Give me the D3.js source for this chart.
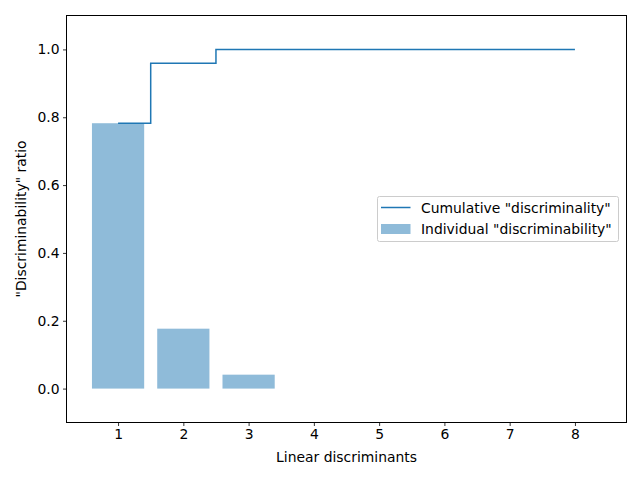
<!DOCTYPE html>
<html>
<head>
<meta charset="utf-8">
<script src="https://cdn.jsdelivr.net/npm/d3@7"></script>
<style>
  body { margin: 0; background: #fff; }
  svg text { font-family: "DejaVu Sans", sans-serif; }
</style>
</head>
<body>
<svg id="chart" width="640" height="480"></svg>
<script>
// individual explained "discriminability" per linear discriminant
var discriminants = [1, 2, 3, 4, 5, 6, 7, 8];
var individual = [0.7824, 0.1766, 0.0410, 0, 0, 0, 0, 0];
var cumulative = [0.7824, 0.9590, 1.0, 1.0, 1.0, 1.0, 1.0, 1.0];
var yTicks = [0.0, 0.2, 0.4, 0.6, 0.8, 1.0];

(function() {
  var svg = d3.select('#chart');

  var mLeft = 66.5, mRight = 626.5, mTop = 15.5, mBottom = 422.5;

  var x = d3.scaleLinear().domain([0.21, 8.79]).range([mLeft, mRight]),
      y = d3.scaleLinear().domain([-0.1, 1.1]).range([mBottom, mTop]);

  var blue = '#1f77b4';

  // bars
  svg.append('g').selectAll('rect')
    .data(discriminants)
    .enter().append('rect')
    .attr('x', function(d) { return x(d - 0.4); })
    .attr('width', function(d) { return x(d + 0.4) - x(d - 0.4); })
    .attr('y', function(d, i) { return y(individual[i]); })
    .attr('height', function(d, i) { return y(0) - y(individual[i]); })
    .attr('fill', blue)
    .attr('fill-opacity', 0.5);

  // cumulative step line (where="mid")
  var line = d3.line()
    .x(function(d) { return x(d[0]); })
    .y(function(d) { return y(d[1]); })
    .curve(d3.curveStep);

  svg.append('path')
    .datum(discriminants.map(function(d, i) { return [d, cumulative[i]]; }))
    .attr('d', line)
    .attr('fill', 'none')
    .attr('stroke', blue)
    .attr('stroke-width', 1.5);

  // axes
  var xAxis = d3.axisBottom(x).tickValues(discriminants).tickSize(3.5).tickPadding(3.5)
    .tickFormat(d3.format('d'));
  var yAxis = d3.axisLeft(y).tickValues(yTicks).tickSize(3.5).tickPadding(3.5)
    .tickFormat(d3.format('.1f'));

  var gx = svg.append('g').attr('transform', 'translate(0,' + mBottom + ')').call(xAxis);
  var gy = svg.append('g').attr('transform', 'translate(' + mLeft + ',0)').call(yAxis);

  [gx, gy].forEach(function(g) {
    g.select('.domain').remove();
    g.selectAll('.tick line').attr('stroke', '#000').attr('stroke-width', 0.8);
    g.selectAll('.tick text').attr('fill', '#000').style('font-size', '13.9px')
      .style('font-family', '"DejaVu Sans", sans-serif');
  });

  // frame
  svg.append('rect')
    .attr('x', mLeft).attr('y', mTop)
    .attr('width', mRight - mLeft).attr('height', mBottom - mTop)
    .attr('fill', 'none').attr('stroke', '#000').attr('stroke-width', 1);

  // labels
  svg.append('text')
    .attr('x', (mLeft + mRight) / 2).attr('y', 462)
    .attr('text-anchor', 'middle').style('font-size', '13.9px')
    .text('Linear discriminants');

  svg.append('text')
    .attr('transform', 'translate(26,' + (mTop + mBottom) / 2 + ') rotate(-90)')
    .attr('text-anchor', 'middle').style('font-size', '13.9px')
    .text('"Discriminability" ratio');

  // legend
  var lg = svg.append('g').attr('transform', 'translate(377.5,196.5)');
  lg.append('rect')
    .attr('width', 241).attr('height', 45).attr('rx', 2)
    .attr('fill', '#fff').attr('fill-opacity', 0.8)
    .attr('stroke', '#ccc').attr('stroke-width', 1);
  lg.append('line')
    .attr('x1', 3.5).attr('x2', 33).attr('y1', 11).attr('y2', 11)
    .attr('stroke', blue).attr('stroke-width', 1.5);
  lg.append('rect')
    .attr('x', 3.5).attr('y', 27.5).attr('width', 29.5).attr('height', 10)
    .attr('fill', blue).attr('fill-opacity', 0.5);
  lg.append('text').attr('x', 43.5).attr('y', 16).style('font-size', '13.9px')
    .text('Cumulative "discriminality"');
  lg.append('text').attr('x', 43.5).attr('y', 37.5).style('font-size', '13.9px')
    .text('Individual "discriminability"');
})();
</script>
</body>
</html>
